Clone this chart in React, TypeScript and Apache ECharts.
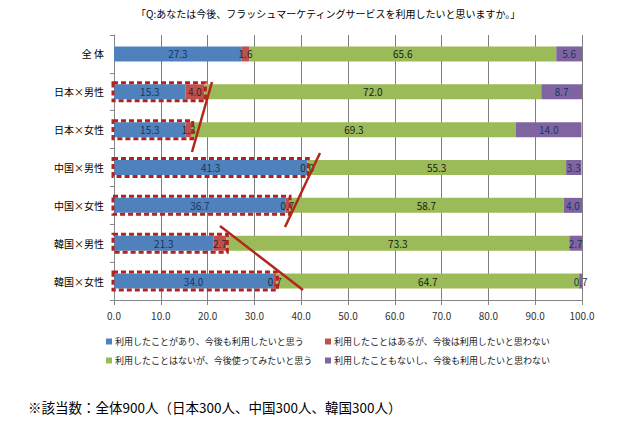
import React, { useEffect, useRef } from "react";
import * as echarts from "echarts";

const categories = ["全 体", "日本×男性", "日本×女性", "中国×男性", "中国×女性", "韓国×男性", "韓国×女性"];
const seriesNames = [
  "利用したことがあり、今後も利用したいと思う",
  "利用したことはあるが、今後は利用したいと思わない",
  "利用したことはないが、今後使ってみたいと思う",
  "利用したこともないし、今後も利用したいと思わない",
];
const usedWillUse = [27.3, 15.3, 15.3, 41.3, 36.7, 21.3, 34.0];
const usedWontUse = [1.6, 4.0, 1.3, 0.0, 0.7, 2.7, 0.7];
const notUsedWillTry = [65.6, 72.0, 69.3, 55.3, 58.7, 73.3, 64.7];
const notUsedWontUse = [5.6, 8.7, 14.0, 3.3, 4.0, 2.7, 0.7];
const highlightedRows = [1, 2, 3, 4, 5, 6];
const xTicks = [0, 10, 20, 30, 40, 50, 60, 70, 80, 90, 100];

const FONT = '"Noto Sans CJK JP", "Noto Sans", sans-serif';
const colors = ["#4f81bd", "#c0504d", "#9bbb59", "#8064a2"];
const labelColors = ["#17375e", "#2a2a2a", "#1a1a1a", "#17375e"];

export default function App() {
  const ref = useRef<HTMLDivElement>(null);
  useEffect(() => {
    if (!ref.current) return;
    const chart = echarts.init(ref.current, null, { renderer: "svg" });
    const values = [usedWillUse, usedWontUse, notUsedWillTry, notUsedWontUse];
    const barSeries = values.map((arr, i) => ({
      name: seriesNames[i],
      type: "bar",
      stack: "total",
      barWidth: 15,
      data: arr,
      itemStyle: { color: colors[i] },
      label: {
        show: true,
        position: "inside",
        formatter: (p: any) => Number(p.value).toFixed(1),
        fontSize: 10,
        fontFamily: FONT,
        color: labelColors[i],
      },
    }));
    const boxData = highlightedRows.map((r) => [usedWillUse[r] + usedWontUse[r], r]);
    const legendPos = [
      { left: 106, top: 337 },
      { left: 325, top: 337 },
      { left: 106, top: 356 },
      { left: 325, top: 356 },
    ];
    chart.setOption({
      animation: false,
      title: {
        text: "「Q:あなたは今後、フラッシュマーケティングサービスを利用したいと思いますか。」",
        left: 136,
        top: 8,
        padding: 0,
        textStyle: { fontSize: 10, fontWeight: "normal", color: "#000", fontFamily: FONT },
      },
      legend: seriesNames.map((n, i) => ({
        data: [n],
        ...legendPos[i],
        padding: 0,
        itemWidth: 6,
        itemHeight: 6,
        itemGap: 4,
        icon: "rect",
        textStyle: { fontSize: 9, color: "#222", fontFamily: FONT, padding: [0, 0, 0, -2] },
      })),
      grid: { left: 114, right: 52, top: 35, bottom: 134 },
      xAxis: {
        type: "value",
        min: 0,
        max: 100,
        interval: 10,
        axisLine: { show: true, lineStyle: { color: "#868686" } },
        axisTick: { show: true, length: 5, lineStyle: { color: "#868686" } },
        axisLabel: {
          formatter: (v: number) => v.toFixed(1),
          fontSize: 10,
          color: "#333",
          fontFamily: FONT,
          margin: 10,
          customValues: xTicks,
        },
        splitLine: { show: true, lineStyle: { color: "#7f7f7f", width: 1 } },
      },
      yAxis: {
        type: "category",
        data: categories,
        inverse: true,
        axisLine: { show: true, lineStyle: { color: "#868686" } },
        axisTick: { show: true, length: 4, lineStyle: { color: "#868686" } },
        axisLabel: { fontSize: 10, color: "#000", fontFamily: FONT, margin: 10 },
      },
      series: [
        ...barSeries,
        {
          type: "custom",
          name: "box",
          z: 5,
          silent: true,
          encode: { x: 0, y: 1 },
          data: boxData,
          renderItem: (params: any, api: any) => {
            const end = api.coord([api.value(0), api.value(1)]);
            const start = api.coord([0, api.value(1)]);
            return {
              type: "rect",
              shape: { x: start[0] - 1, y: end[1] - 9, width: end[0] - start[0] + 2, height: 18 },
              style: { fill: "none", stroke: "#b3221f", lineWidth: 3, lineDash: [5, 3] },
            };
          },
        },
      ],
      graphic: [
        { type: "line", shape: { x1: 212, y1: 82, x2: 192, y2: 152 }, style: { stroke: "#b3261e", lineWidth: 2.5 }, z: 10 },
        { type: "line", shape: { x1: 320, y1: 153, x2: 285, y2: 227 }, style: { stroke: "#b3261e", lineWidth: 2.5 }, z: 10 },
        { type: "line", shape: { x1: 220, y1: 226, x2: 303, y2: 290 }, style: { stroke: "#b3261e", lineWidth: 2.5 }, z: 10 },
        {
          type: "text",
          left: 28,
          top: 400,
          style: {
            text: "※該当数：全体900人（日本300人、中国300人、韓国300人）",
            fontSize: 13.5,
            fontWeight: "normal",
            fill: "#000",
            fontFamily: FONT,
          },
        },
      ],
    });
    return () => chart.dispose();
  }, []);
  return <div ref={ref} style={{ position: "fixed", left: 0, top: 0, width: 634, height: 434, background: "#fff" }} />;
}
